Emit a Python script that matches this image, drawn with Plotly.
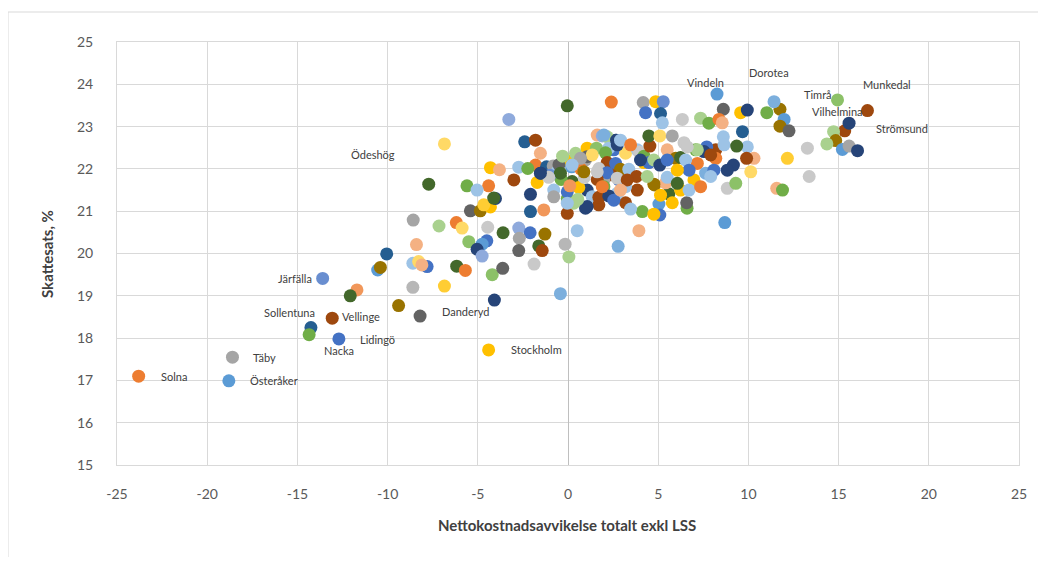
import plotly.graph_objects as go

# ---- data: (x = Nettokostnadsavvikelse, y = Skattesats) ----
label_names = ["Solna", "Österåker", "Täby", "Sollentuna", "Nacka", "Vellinge", "Lidingö",
               "Järfälla", "Danderyd", "Stockholm", "Ödeshög", "Vindeln", "Dorotea",
               "Timrå", "Munkedal", "Vilhelmina", "Strömsund"]
label_x = [-23.8, -18.8, -18.6, -14.25, -14.35, -13.07, -12.7,
           -13.6, -8.2, -4.4, -6.85, 8.26, 11.42,
           14.94, 16.6, 15.58, 16.05]
label_y = [17.1, 16.99, 17.55, 18.25, 18.08, 18.47, 17.98,
           19.41, 18.52, 17.72, 22.59, 23.77, 23.59,
           23.63, 23.38, 23.08, 22.43]

other_x = [-7.72, -8.58, -7.15, -8.4, -10.05, -8.6, -8.28, -7.81, -8.1, -10.55, -10.4, -8.6, -6.85,
           -11.7, -12.07, -9.39, -5.41, -4.86, -4.3, -6.19, -5.87, -4.45, -3.6, -2.73, -2.1, -1.28,
           -2.7, -5.5, -4.5, -4.76, -5.04, -4.76, -2.73, -1.62, -1.43, -0.16, 0.05, 0.51, 2.78,
           -6.17, -5.69, -4.2, -3.62, -1.88, -0.42, -4.08, -4.4, -5.6, -4.3, -3.8, -3.0, -4.02,
           -5.04, -4.67, -2.08, -2.08, -1.34, -1.71, -0.42, -0.04, -0.79, -0.04, 0.97, 3.93, 4.12,
           3.19, 3.84, 3.47, 5.04, 5.09, 4.76, 4.8, 5.59, 5.78, 6.6, 6.58, 8.69, 8.83, 9.3, 11.57,
           11.89, -0.04, 2.4, -3.28, -2.4, -1.8, -1.53, -1.8, -2.73, -2.23, -1.19, -0.82, -0.05,
           0.42, 1.06, 1.58, 1.62, 1.9, 2.64, 2.17, 2.54, 2.26, 2.08, 2.17, 2.64, 2.91, 2.82, 2.36,
           1.99, 3.19, 3.37, 3.19, 3.84, 3.93, 4.21, 4.21, 4.48, 4.76, 4.54, 4.48, 5.09, 5.78, 6.43,
           5.5, 5.97, 6.24, 7.08, 7.17, 8.19, 8.19, 7.63, 6.98, 5.41, 4.17, 4.86, 5.28, 4.3, 5.13,
           6.34, 5.23, 8.61, 9.57, 9.94, 7.35, 7.81, 8.37, 8.55, 11.02, 11.75, 11.98, 11.75, 12.25,
           9.67, 13.27, 12.16, 13.37, 9.94, 10.31, 9.9, 10.13, 15.34, 14.72, 14.84, 14.35, 15.21,
           15.58, 8.61, 8.65, 9.35, 9.17, 8.83, 8.09, 7.91, 7.69, 7.54, 7.91, 7.17, 6.52, 6.71, 5.09,
           5.5, 4.76, 3.8, 6.24, 1.99, 2.69, 0.97, 1.06, 1.71, 2.17, 1.62, 2.73, 1.99, 1.06, 1.34,
           0.32, 1.71, 1.06, -0.79, -0.04, 0.23, -0.6, 2.73, -0.38, 0.6, 0.54, 1.71, 2.26, -4.12,
           1.62, -0.5, 0.2, -1.0, 0.7, -0.3, 0.9, -1.5, 0.1,
           2.73, 1.34, 0.69, 0.23, 0.88, -0.42, -1.07, -1.53, 1.9, 2.54, -0.04,
           2.91, 3.47, 4.02, 5.5, 6.06, 6.61, 4.39, 3.28, 2.91, 5.13, 6.71, 6.06, 7.35]
other_y = [21.64, 20.79, 20.65, 20.21, 19.99, 19.77, 19.81, 19.69, 19.73, 19.61, 19.67, 19.2, 19.23,
           19.14, 19.0, 18.77, 21.01, 21.01, 21.1, 20.73, 20.6, 20.62, 20.49, 20.6, 20.49, 20.46,
           20.36, 20.28, 20.3, 20.22, 20.1, 19.94, 20.07, 20.18, 20.07, 20.22, 19.92, 20.54, 20.17,
           19.7, 19.6, 19.5, 19.65, 19.75, 19.05, 18.9, 21.6, 21.6, 22.03, 21.98, 21.74, 21.3,
           21.5, 21.15, 21.4, 20.99, 21.03, 21.68, 21.8, 21.3, 21.5, 20.95, 21.07, 20.54, 20.99,
           21.2, 21.5, 21.05, 21.17, 20.91, 20.93, 21.62, 21.41, 21.2, 21.07, 21.2, 20.73, 21.54, 21.66, 21.54,
           21.5, 23.49, 23.58, 23.17, 22.64, 22.68, 22.37, 22.09, 22.04, 22.01, 22.05, 22.07, 22.2,
           22.37, 22.49, 22.49, 22.8, 22.78, 22.68, 22.76, 22.45, 22.49, 22.38, 22.15, 22.13, 21.99, 21.74, 21.86,
           21.74, 21.58, 21.99, 22.37, 22.45, 22.4, 22.3, 22.15, 22.15, 22.21, 22.54, 22.78, 22.78, 22.78, 22.62,
           22.45, 22.25, 22.27, 22.45, 22.13, 22.45, 22.25, 21.9, 21.74, 21.67, 23.57, 23.59, 23.59, 23.33, 23.31,
           23.17, 23.09, 23.41, 23.33, 23.39, 23.2, 23.08, 23.17, 23.09, 23.33, 23.41, 23.17, 23.01, 22.9,
           22.88, 22.49, 22.25, 21.82, 22.52, 22.25, 22.25, 21.93, 22.9, 22.88, 22.67, 22.59, 22.46,
           22.54, 22.76, 22.57, 22.54, 22.09, 21.97, 21.97, 21.82, 22.52, 22.41, 22.33, 22.45, 22.21, 21.97, 22.09,
           21.8, 21.64, 21.82, 21.5, 22.8, 22.68, 22.21, 22.29, 22.01, 21.91, 21.75, 21.78, 21.58, 21.5, 21.34,
           21.19, 21.15, 21.11, 21.34, 21.46, 21.7, 21.93, 21.42, 21.75, 21.56, 21.28, 21.33, 21.36, 21.31,
           21.93, 22.1, 22.05, 21.85, 22.0, 22.3, 21.8, 21.9, 21.6,
           22.57, 22.33, 22.25, 22.09, 21.93, 21.9, 21.8, 21.9, 21.58, 21.26, 21.19,
           22.68, 22.57, 22.21, 22.21, 21.97, 22.52, 21.82, 21.74, 21.5, 21.38, 21.5, 21.66, 21.58]

# ---- styles ----
PAL = {
    "B": "#4472C4", "O": "#ED7D31", "G": "#A5A5A5", "Y": "#FFC000", "LB": "#5B9BD5", "GR": "#70AD47",
    "DB": "#264478", "DO": "#9E480E", "DG": "#636363", "DY": "#997300", "DLB": "#255E91", "DGR": "#43682B",
    "B2": "#698ED0", "O2": "#F1975A", "G2": "#B7B7B7", "Y2": "#FFCD33", "LB2": "#7CAFDD", "GR2": "#8CC168",
    "B3": "#8FAADC", "O3": "#F4B183", "G3": "#C9C9C9", "Y3": "#FFD966", "LB3": "#9DC3E6", "GR3": "#A9D18E",
}
label_colors = ["O", "LB", "G", "DLB", "GR", "DO", "B", "B2", "DG", "Y", "Y3", "LB", "LB2",
                "GR2", "DO", "DB", "DB"]
other_colors = ["DGR", "G", "GR3", "O3", "DLB", "LB3", "Y3", "B", "O3", "LB", "DY", "G2", "Y2",
                "O2", "DGR", "DY", "DG", "DY", "Y", "O", "Y3", "G3", "DGR", "B3", "B", "DY",
                "G", "GR2", "B", "LB", "DB", "B3", "DG", "DGR", "DO", "G2", "GR3", "LB3", "LB2",
                "DGR", "O", "GR2", "DG", "G3", "LB2", "DB", "O", "GR", "Y", "O3", "DO", "DB",
                "LB3", "Y2", "DB", "DLB", "O2", "Y", "DGR", "GR", "LB3", "DO", "DB", "O3", "GR",
                "DO", "DO", "LB3", "LB", "B", "Y", "DY", "DGR", "Y", "GR", "DG", "LB", "G3", "GR2", "O3",
                "GR", "DGR", "O", "B3", "DLB", "DO", "O3", "O", "LB3", "GR", "DLB", "G", "Y",
                "GR3", "Y", "GR2", "O3", "B3", "DB", "GR3", "B", "LB3", "GR", "DO", "B", "DY", "B", "DO",
                "G", "LB3", "LB3", "Y3", "LB3", "G3", "GR", "Y", "B", "GR3", "DO", "DGR", "Y3", "G", "G3",
                "O3", "DY", "DGR", "GR", "O", "DO", "O", "LB2", "Y", "O3", "G", "Y", "B2", "B", "DLB",
                "G3", "LB3", "DG", "Y", "DB", "GR3", "GR", "O", "O3", "GR", "DY", "LB", "DY", "DG",
                "DLB", "G3", "Y2", "G3", "LB3", "O3", "DO", "Y3", "DO", "GR3", "DY", "GR3", "LB",
                "G", "LB3", "LB3", "DGR", "DB", "DB", "B", "LB3", "B", "DB", "DO", "GR3", "LB3", "B", "DB",
                "LB3", "DY", "DO", "Y", "LB2", "DB", "G", "DG", "G3", "B", "DO", "G3", "GR", "DB", "LB3",
                "GR3", "DO", "DB", "G", "B", "DGR", "LB3", "LB3", "GR", "Y", "GR3", "DO", "DB", "DGR",
                "G3", "DG", "LB", "B2", "O", "GR3", "G3", "DB", "O2",
                "DB", "Y3", "G", "LB3", "DY", "DGR", "G3", "DB", "O", "B", "LB3",
                "LB3", "O", "DB", "B", "Y", "G3", "GR3", "DO", "O3", "Y", "LB3", "DGR", "O"]

# label offsets in px (style): (xanchor, xshift, yshift)
label_pos = {
    "Solna": ("left", 20, 0), "Österåker": ("left", 19, 0), "Täby": ("left", 19, 0),
    "Sollentuna": ("right", 6, 15), "Nacka": ("center", 30, -16), "Vellinge": ("left", 8, 2),
    "Lidingö": ("left", 19, -1), "Järfälla": ("right", -9, 0), "Danderyd": ("left", 20, 5),
    "Stockholm": ("left", 20, 0), "Ödeshög": ("right", -47, -11), "Vindeln": ("center", -12, 12),
    "Dorotea": ("center", -5, 29), "Timrå": ("right", -4, 5), "Munkedal": ("center", 20, 26),
    "Vilhelmina": ("center", -12, 12), "Strömsund": ("left", 16, 22),
}

x_ticks = [-25, -20, -15, -10, -5, 0, 5, 10, 15, 20, 25]
x_tick_text = ["-25", "-20", "-15", "-10", "-5", "0", "5", "10", "15", "20", "25"]

xs = other_x + label_x
ys = other_y + label_y
cols = [PAL[c] for c in other_colors + label_colors]

fig = go.Figure()
fig.add_trace(go.Scatter(
    x=xs, y=ys, mode="markers",
    marker=dict(size=13, color=cols, line=dict(width=0), opacity=1),
    hoverinfo="x+y", showlegend=False,
))

for name, lx, ly in zip(label_names, label_x, label_y):
    anchor, dx, dy = label_pos[name]
    fig.add_annotation(x=lx, y=ly, text=name, showarrow=False, xanchor=anchor, yanchor="middle",
                       xshift=dx, yshift=dy, font=dict(family="Lato", size=11, color="#404040"))

# page offset (browser body margin) so that the figure lands where the reference does
OFF = 8
W, H = 1030, 549
L, T = 117 - OFF, 42 - OFF
R = W - (1019 - OFF)
B = H - (465 - OFF)
pw, ph = W - L - R, H - T - B

def px2paper_x(px):
    return (px - OFF - L) / pw

def px2paper_y(py):
    return (H - B - (py - OFF)) / ph

# axis titles
fig.add_annotation(xref="paper", yref="paper", x=px2paper_x(567), y=px2paper_y(525),
                   text="<b>Nettokostnadsavvikelse totalt exkl LSS</b>", showarrow=False,
                   font=dict(family="Lato", size=15, color="#404040"), xanchor="center", yanchor="middle")
fig.add_annotation(xref="paper", yref="paper", x=px2paper_x(47), y=px2paper_y(254),
                   text="<b>Skattesats, %</b>", showarrow=False, textangle=-90,
                   font=dict(family="Lato", size=15, color="#404040"), xanchor="center", yanchor="middle")

# chart area border
fig.add_shape(type="rect", xref="paper", yref="paper",
              x0=px2paper_x(8), y0=px2paper_y(620), x1=px2paper_x(1100), y1=px2paper_y(12),
              line=dict(color="#D9D9D9", width=1), fillcolor="rgba(0,0,0,0)", layer="below")

fig.update_layout(
    width=W, height=H,
    margin=dict(l=L, r=R, t=T, b=B),
    paper_bgcolor="white", plot_bgcolor="white",
    font=dict(family="Lato", color="#595959"),
    xaxis=dict(range=[-25, 25], tickmode="array", tickvals=x_ticks, ticktext=x_tick_text,
               showgrid=True, gridcolor="#D9D9D9", gridwidth=1,
               zeroline=True, zerolinecolor="#BFBFBF", zerolinewidth=1,
               showline=True, linecolor="#D9D9D9", mirror=True, ticks="",
               tickfont=dict(family="Lato", size=14, color="#595959"), ticklabelstandoff=16,
               automargin=False),
    yaxis=dict(range=[15, 25], dtick=1, showgrid=True, gridcolor="#D9D9D9", gridwidth=1,
               zeroline=False, showline=True, linecolor="#D9D9D9", mirror=True, ticks="",
               tickfont=dict(family="Lato", size=14, color="#595959"), ticklabelstandoff=20,
               automargin=False),
)

fig.write_html("out.html")
